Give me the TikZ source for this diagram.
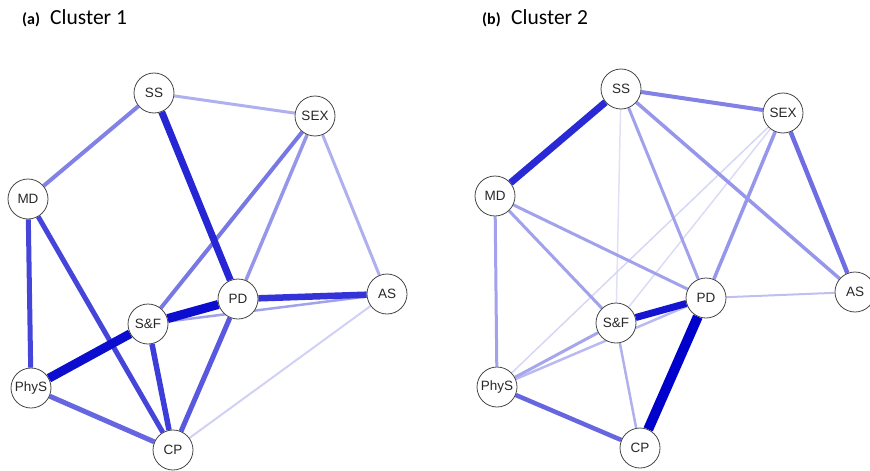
\documentclass[tikz,border=0pt]{standalone}
\usepackage{fontspec}
\setmainfont{Carlito}
\newfontfamily\nodefont{Liberation Sans}
\pgfdeclarelayer{edges}
\pgfsetlayers{edges,main}
\definecolor{eb}{RGB}{0,0,205}
\definecolor{ring}{RGB}{70,70,70}
\definecolor{lbl}{RGB}{40,40,40}
\tikzset{
  var/.style={circle, draw=ring, line width=0.8pt, fill=white, minimum size=40pt,
    inner sep=0pt, font=\nodefont\fontsize{13.5}{15}\selectfont, text=lbl},
  edge/.style 2 args={draw=eb!#1!white, line width=#2pt},
  paneltag/.style={anchor=base west, font=\bfseries\fontsize{16}{18}\selectfont},
  paneltitle/.style={anchor=base west, font=\fontsize{21.5}{24}\selectfont}
}
\begin{document}
\begin{tikzpicture}[x=1pt, y=-1pt]
\useasboundingbox (0,0) rectangle (870,471);

% ---------- panel titles ----------
\node[paneltag, inner sep=0pt] (ta) at (22,24) {(a)};
\node[paneltitle, inner sep=0pt] (ca) at (50,24.5) {Cluster 1};
\node[paneltag, inner sep=0pt] (tb) at (482,24) {(b)};
\node[paneltitle, inner sep=0pt] (cb) at (511,24.5) {Cluster 2};

% ---------- Cluster 1 nodes ----------
\node[var] (aSS)   at (154,93)  {SS};
\node[var] (aSEX)  at (315,116) {SEX};
\node[var] (aMD)   at (28,199)  {MD};
\node[var] (aPD)   at (238,299) {PD};
\node[var] (aAS)   at (387,294) {AS};
\node[var] (aSF)   at (148,324) {S\&F};
\node[var] (aPhyS) at (31,388)  {PhyS};
\node[var] (aCP)   at (173,450) {CP};

% ---------- Cluster 2 nodes ----------
\node[var] (bSS)   at (621,89)  {SS};
\node[var] (bSEX)  at (783,113) {SEX};
\node[var] (bMD)   at (495,196) {MD};
\node[var] (bPD)   at (706,298) {PD};
\node[var] (bAS)   at (855,292) {AS};
\node[var] (bSF)   at (616,323) {S\&F};
\node[var] (bPhyS) at (497,387) {PhyS};
\node[var] (bCP)   at (640,448) {CP};

\begin{pgfonlayer}{edges}
% ---------- Cluster 1 edges ----------
\draw[edge={18}{2}]   (aAS) -- (aCP);
\draw[edge={31}{3}]   (aSS) -- (aSEX);
\draw[edge={31}{3}]   (aSEX) -- (aAS);
\draw[edge={37}{2.5}] (aSF) -- (aAS);
\draw[edge={41}{3.5}] (aSEX) -- (aPD);
\draw[edge={53}{4}]   (aSEX) -- (aSF);
\draw[edge={49}{4}]   (aSS) -- (aMD);
\draw[edge={60}{5}]   (aPhyS) -- (aCP);
\draw[edge={65}{5}]   (aPD) -- (aCP);
\draw[edge={73}{5}]   (aMD) -- (aPhyS);
\draw[edge={73}{5}]   (aMD) -- (aCP);
\draw[edge={76}{5.5}] (aSF) -- (aCP);
\draw[edge={80}{6.5}] (aPD) -- (aAS);
\draw[edge={85}{7}]   (aSS) -- (aPD);
\draw[edge={95}{9}]   (aSF) -- (aPD);
\draw[edge={95}{9}]   (aSF) -- (aPhyS);

% ---------- Cluster 2 edges ----------
\draw[edge={12}{1.5}] (bSS) -- (bSF);
\draw[edge={16}{1.5}] (bSEX) -- (bPhyS);
\draw[edge={14}{1.5}] (bSEX) -- (bSF);
\draw[edge={25}{2}]   (bPD) -- (bAS);
\draw[edge={27}{2.5}] (bPhyS) -- (bPD);
\draw[edge={31}{2.5}] (bSF) -- (bCP);
\draw[edge={35}{3}]   (bPhyS) -- (bSF);
\draw[edge={37}{3}]   (bMD) -- (bPhyS);
\draw[edge={37}{3}]   (bMD) -- (bSF);
\draw[edge={37}{3}]   (bMD) -- (bPD);
\draw[edge={37}{3}]   (bSS) -- (bPD);
\draw[edge={41}{3.5}] (bSS) -- (bAS);
\draw[edge={41}{3.5}] (bSEX) -- (bPD);
\draw[edge={49}{4}]   (bSS) -- (bSEX);
\draw[edge={57}{4.5}] (bSEX) -- (bAS);
\draw[edge={60}{4.5}] (bPhyS) -- (bCP);
\draw[edge={84}{7}]   (bSS) -- (bMD);
\draw[edge={92}{7}]   (bSF) -- (bPD);
\draw[edge={100}{10}] (bPD) -- (bCP);
\end{pgfonlayer}
\end{tikzpicture}
\end{document}
